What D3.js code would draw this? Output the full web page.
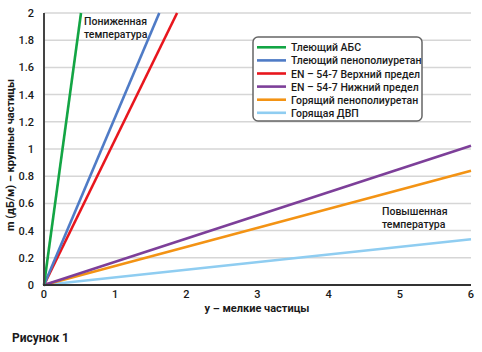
<!DOCTYPE html>
<html>
<head>
<meta charset="utf-8">
<script src="https://cdn.jsdelivr.net/npm/d3@7"></script>
<style>
  body { margin: 0; background: #fff; }
  text { font-family: Roboto, "Noto Sans", sans-serif; fill: #1a1a1a; }
</style>
</head>
<body>
<div id="chart"></div>
<script>
// Series names, colours and the end point of each straight line (x, m)
const seriesNames = ["Тлеющий АБС", "Тлеющий пенополиуретан", "EN – 54-7 Верхний предел",
  "EN – 54-7 Нижний предел", "Горящий пенополиуретан", "Горящая ДВП"];
const seriesColors = ["#13a544", "#4f7bc6", "#e8161d", "#7d3f99", "#f39314", "#8fcdf1"];
const endX = [0.52, 1.62, 1.87, 6, 6, 6];
const endY = [2, 2, 2, 1.024, 0.84, 0.336];

const xTicks = [0, 1, 2, 3, 4, 5, 6];
const yTicks = [0, 0.2, 0.4, 0.6, 0.8, 1, 1.2, 1.4, 1.6, 1.8, 2];

const W = 482, H = 352;
const svg = d3.select("#chart").append("svg")
  .attr("width", W).attr("height", H);

const x = d3.scaleLinear().domain([0, 6]).range([44, 471]);
const y = d3.scaleLinear().domain([0, 2]).range([285, 13]);

// gridlines
svg.append("g").selectAll("line")
  .data(yTicks.slice(1))
  .enter().append("line")
  .attr("x1", x(0)).attr("x2", x(6))
  .attr("y1", d => y(d)).attr("y2", d => y(d))
  .attr("stroke", "#d6d6d6").attr("stroke-width", 1.5);

// y tick labels
svg.append("g").selectAll("text")
  .data(yTicks)
  .enter().append("text")
  .attr("x", 34).attr("y", d => y(d) + 4)
  .attr("text-anchor", "end")
  .style("font-size", "11px").style("font-weight", 500)
  .text(d => d);

// x tick labels
svg.append("g").selectAll("text")
  .data(xTicks)
  .enter().append("text")
  .attr("x", d => x(d)).attr("y", 298)
  .attr("text-anchor", "middle")
  .style("font-size", "11px").style("font-weight", 500)
  .text(d => d);

// lines from origin
const series = seriesNames.map((n, i) => ({ name: n, color: seriesColors[i], pts: [[0, 0], [endX[i], endY[i]]] }));
const line = d3.line().x(d => x(d[0])).y(d => y(d[1]));
svg.append("g").selectAll("path")
  .data(series.slice().reverse())
  .enter().append("path")
  .attr("d", d => line(d.pts))
  .attr("fill", "none")
  .attr("stroke", d => d.color)
  .attr("stroke-width", 2.6);

// axes
svg.append("line")
  .attr("x1", x(0)).attr("x2", x(0)).attr("y1", y(2)).attr("y2", y(0))
  .attr("stroke", "#444").attr("stroke-width", 2);
svg.append("line")
  .attr("x1", x(0) - 1).attr("x2", x(6)).attr("y1", y(0)).attr("y2", y(0))
  .attr("stroke", "#333").attr("stroke-width", 2);

// legend
const lg = svg.append("g");
lg.append("rect")
  .attr("x", 253).attr("y", 37).attr("width", 169).attr("height", 84)
  .attr("rx", 5).attr("fill", "#fff")
  .attr("stroke", "#666").attr("stroke-width", 1.5);
const items = lg.selectAll("g.item").data(series).enter().append("g")
  .attr("transform", (d, i) => "translate(0," + (47.3 + i * 13.1) + ")");
items.append("line")
  .attr("x1", 257).attr("x2", 286).attr("y1", 0).attr("y2", 0)
  .attr("stroke", d => d.color).attr("stroke-width", 2.6);
items.append("text")
  .attr("x", 291).attr("y", 4)
  .style("font-size", "10.5px").style("font-weight", 500)
  .text(d => d.name);

// annotations
const ann1 = svg.append("text").style("font-size", "10.5px").style("font-weight", 500);
ann1.append("tspan").attr("x", 84).attr("y", 25).text("Пониженная");
ann1.append("tspan").attr("x", 84).attr("y", 38).text("температура");
const ann2 = svg.append("text").style("font-size", "10.5px").style("font-weight", 500);
ann2.append("tspan").attr("x", 382).attr("y", 215).text("Повышенная");
ann2.append("tspan").attr("x", 382).attr("y", 228).text("температура");

// axis titles
svg.append("text")
  .attr("transform", "translate(14,155) rotate(-90)")
  .attr("text-anchor", "middle")
  .style("font-size", "11px").style("font-weight", 700)
  .text("m (дБ/м) – крупные частицы");
svg.append("text")
  .attr("x", 257).attr("y", 312)
  .attr("text-anchor", "middle")
  .style("font-size", "11px").style("font-weight", 700)
  .text("y – мелкие частицы");

svg.append("text")
  .attr("x", 12).attr("y", 342)
  .style("font-size", "12px").style("font-weight", 700)
  .text("Рисунок 1");
</script>
</body>
</html>
